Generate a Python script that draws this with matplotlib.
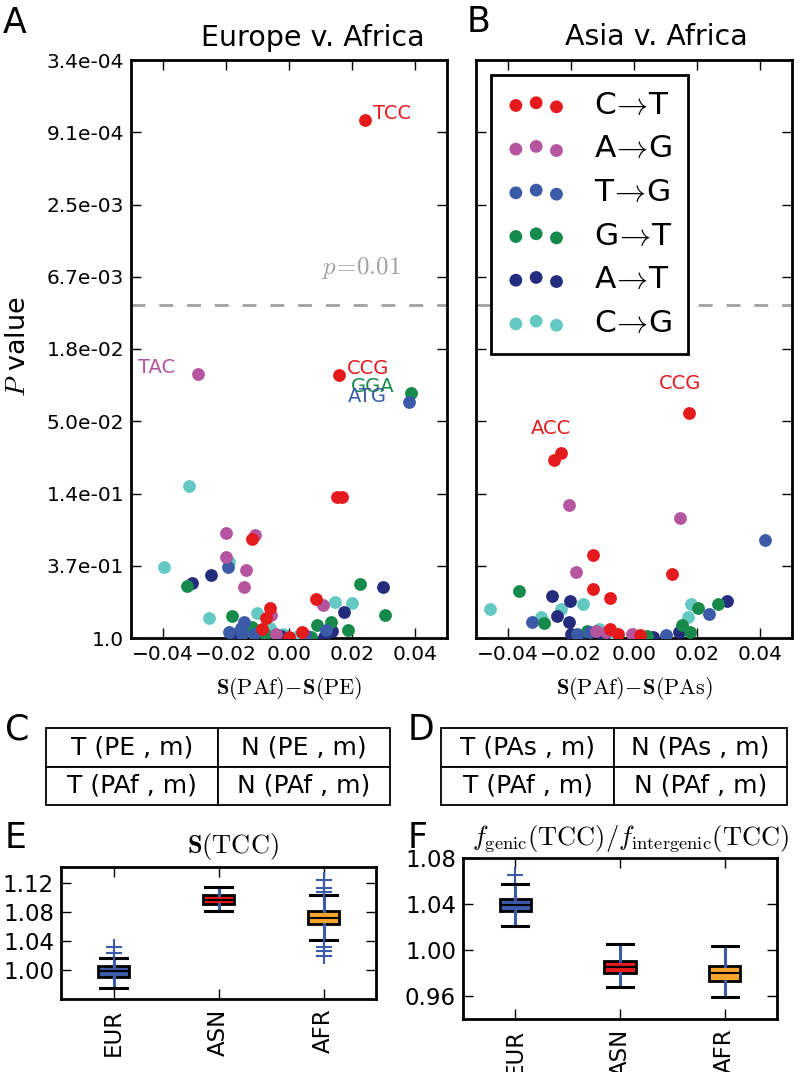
import numpy as np
import matplotlib
matplotlib.use('Agg')
import matplotlib.pyplot as plt

plt.rcParams['mathtext.fontset'] = 'cm'
plt.rcParams['font.family'] = ['DejaVu Sans']

W, H = 799, 1072

# ---------------- data ----------------
mut_labels = ['C$\\!\\rightarrow\\!$T', 'A$\\!\\rightarrow\\!$G', 'T$\\!\\rightarrow\\!$G',
              'G$\\!\\rightarrow\\!$T', 'A$\\!\\rightarrow\\!$T', 'C$\\!\\rightarrow\\!$G']
mut_colors = ['#e41a1c', '#b5559f', '#3b5ba9', '#168a4b', '#262c7d', '#63c9c2']

# y values are -ln(P)
# Panel A: Europe v. Africa
a_ct_x = [0.0239, 0.0157, 0.0151, 0.0167, -0.0116, 0.0084, -0.0060, -0.0072, 0.0000, 0.0040, -0.0085]
a_ct_y = [7.17, 3.64, 1.95, 1.95, 1.37, 0.54, 0.41, 0.28, 0.02, 0.08, 0.12]
a_ag_x = [-0.0287, -0.0198, -0.0107, -0.0199, -0.0135, -0.0142, 0.0107, -0.0057, -0.0040]
a_ag_y = [3.65, 1.45, 1.43, 1.12, 0.94, 0.71, 0.46, 0.32, 0.05]
a_tg_x = [0.0380, -0.0192, -0.0189, -0.0151, -0.0150, 0.0117, -0.0110, 0.0050, -0.0142]
a_tg_y = [3.27, 0.98, 0.08, 0.14, 0.05, 0.11, 0.05, 0.04, 0.22]
a_gt_x = [0.0387, -0.0324, 0.0224, 0.0305, -0.0180, 0.0088, 0.0132, 0.0186, -0.0117, -0.0075, 0.0070]
a_gt_y = [3.39, 0.72, 0.75, 0.32, 0.30, 0.18, 0.22, 0.11, 0.15, 0.05, 0.02]
a_at_x = [-0.0306, -0.0246, 0.0296, 0.0174, 0.0135, -0.0170, -0.0025, 0.0110]
a_at_y = [0.76, 0.87, 0.71, 0.36, 0.10, 0.05, 0.03, 0.02]
a_cg_x = [-0.0318, -0.0397, -0.0190, 0.0145, 0.0198, -0.0252, -0.0101, -0.0060, 0.0030, -0.0020]
a_cg_y = [2.10, 0.98, 1.05, 0.50, 0.48, 0.28, 0.35, 0.14, 0.03, 0.06]

# Panel B: Asia v. Africa
b_ct_x = [0.0175, -0.0253, -0.0231, -0.0131, 0.0121, -0.0131, -0.0077, -0.0075, -0.0050, 0.0020]
b_ct_y = [3.11, 2.46, 2.56, 1.15, 0.89, 0.68, 0.55, 0.12, 0.06, 0.04]
b_ag_x = [-0.0206, 0.0146, -0.0184, -0.0120, -0.0090, -0.0005]
b_ag_y = [1.84, 1.66, 0.91, 0.10, 0.08, 0.05]
b_tg_x = [0.0414, 0.0238, -0.0323, -0.0180, -0.0140, 0.0100]
b_tg_y = [1.36, 0.33, 0.22, 0.05, 0.08, 0.04]
b_gt_x = [-0.0364, -0.0285, 0.0204, 0.0266, 0.0153, 0.0178, -0.0150, 0.0040]
b_gt_y = [0.65, 0.21, 0.41, 0.47, 0.18, 0.08, 0.10, 0.03]
b_at_x = [-0.0260, -0.0203, 0.0295, -0.0245, -0.0205, 0.0143, -0.0170, -0.0100, 0.0060, -0.0200]
b_at_y = [0.58, 0.51, 0.51, 0.30, 0.22, 0.08, 0.03, 0.05, 0.02, 0.05]
b_cg_x = [-0.0455, -0.0160, -0.0294, -0.0231, 0.0180, 0.0172, -0.0110, -0.0060, 0.0010]
b_cg_y = [0.40, 0.47, 0.29, 0.40, 0.47, 0.29, 0.12, 0.04, 0.02]

p_threshold = 0.01
x_ticks = [-0.04, -0.02, 0.00, 0.02, 0.04]
y_ticks = [0, 1, 2, 3, 4, 5, 6, 7, 8]

# Tables
table_c = [['T (PE , m)', 'N (PE , m)'], ['T (PAf , m)', 'N (PAf , m)']]
table_d = [['T (PAs , m)', 'N (PAs , m)'], ['T (PAf , m)', 'N (PAf , m)']]

# Box plots
pops = ['EUR', 'ASN', 'AFR']
pop_colors = ['#3b5ba9', '#e41a1c', '#f5a52a']
e_med = [0.998, 1.0966, 1.0717]
e_q1 = [0.990, 1.091, 1.0634]
e_q3 = [1.0055, 1.1034, 1.0814]
e_lo = [0.975, 1.0814, 1.0414]
e_hi = [1.0166, 1.1145, 1.1034]
e_fliers = [[1.023, 1.032], [], [1.108, 1.113, 1.124, 1.032, 1.026, 1.019]]
f_med = [1.039, 0.9853, 0.9798]
f_q1 = [1.0336, 0.9798, 0.9733]
f_q3 = [1.0446, 0.9908, 0.9862]
f_lo = [1.0208, 0.968, 0.959]
f_hi = [1.057, 1.0055, 1.0037]
f_fliers = [[1.065], [], []]

# ---------------- figure ----------------
fig = plt.figure(figsize=(W / 100, H / 100), dpi=100)


def rect(l, t, r, b):
    return [l / W, 1 - b / H, (r - l) / W, (b - t) / H]


def style_axes(ax, labelsize):
    for s in ax.spines.values():
        s.set_linewidth(2)
    ax.tick_params(direction='in', length=7, width=1, top=True, right=True,
                   labelsize=labelsize, pad=5)


axA = fig.add_axes(rect(131, 60, 447, 638))
axB = fig.add_axes(rect(476, 60, 792, 638))

A_sets = [(a_ct_x, a_ct_y), (a_ag_x, a_ag_y), (a_tg_x, a_tg_y),
          (a_gt_x, a_gt_y), (a_at_x, a_at_y), (a_cg_x, a_cg_y)]
B_sets = [(b_ct_x, b_ct_y), (b_ag_x, b_ag_y), (b_tg_x, b_tg_y),
          (b_gt_x, b_gt_y), (b_at_x, b_at_y), (b_cg_x, b_cg_y)]

handles = [None] * 6
for ax, sets in [(axA, A_sets), (axB, B_sets)]:
    for i in reversed(range(6)):
        xs, ys = sets[i]
        h = ax.scatter(xs, ys, s=85, c=mut_colors[i], linewidths=0,
                       label=mut_labels[i], zorder=3)
        if ax is axB:
            handles[i] = h
    ax.axhline(-np.log(p_threshold), color='#a0a0a0', lw=2, dashes=(5, 5), zorder=2)
    ax.set_xlim(-0.05, 0.05)
    ax.set_ylim(0, 8)
    ax.set_xticks(x_ticks)
    ax.set_xticklabels([('%.2f' % t).replace('-', '\u2212') for t in x_ticks])
    ax.set_yticks(y_ticks)
    style_axes(ax, 14.5)

axA.set_yticklabels(['1.0'] + ['%.1e' % np.exp(-k) for k in y_ticks[1:]])
axB.tick_params(labelleft=False)

axA.text(0.023, 5.12, '$p\\!=\\!0.01$', color='#a0a0a0', fontsize=18,
         ha='center', va='center')

# annotations
annA = [('TCC', a_ct_x[0], a_ct_y[0], mut_colors[0], 6, 5, 'left'),
        ('TAC', a_ag_x[0], a_ag_y[0], mut_colors[1], -17, 5, 'right'),
        ('CCG', a_ct_x[1], a_ct_y[1], mut_colors[0], 6, 5, 'left'),
        ('GGA', a_gt_x[0], a_gt_y[0], mut_colors[3], -12, 5, 'right'),
        ('ATG', a_tg_x[0], a_tg_y[0], mut_colors[2], -16, 4, 'right')]
for t, x, y, c, dx, dy, ha in annA:
    axA.annotate(t, xy=(x, y), xytext=(dx, dy), textcoords='offset points',
                 ha=ha, va='center', color=c, fontsize=14, zorder=4)
annB = [('CCG', b_ct_x[0], b_ct_y[0], mut_colors[0], -6.5, 21.5),
        ('ACC', b_ct_x[2], b_ct_y[2], mut_colors[0], -7, 18)]
for t, x, y, c, dx, dy in annB:
    axB.annotate(t, xy=(x, y), xytext=(dx, dy), textcoords='offset points',
                 ha='center', va='center', color=c, fontsize=14, zorder=4)

leg = axB.legend(handles=handles, labels=mut_labels, loc='upper left',
                 bbox_to_anchor=(0.047, 0.974), borderaxespad=0, fontsize=22.5,
                 scatterpoints=3, scatteryoffsets=[0.375, 0.5, 0.3125],
                 handlelength=1.9, handletextpad=0.9, labelspacing=0.47,
                 borderpad=0.5, fancybox=False, framealpha=1)
leg.get_frame().set_edgecolor('black')
leg.get_frame().set_linewidth(2)
leg.set_zorder(5)

axA.text(0.576, 1.024, 'Europe v. Africa', transform=axA.transAxes,
         fontsize=20.5, ha='center', va='baseline')
axB.text(0.570, 1.026, 'Asia v. Africa', transform=axB.transAxes,
         fontsize=20.5, ha='center', va='baseline')

fig.text(18 / W, 1 - 347 / H, '$P$ value', rotation=90, fontsize=19.5,
         ha='center', va='center')
fig.text(289 / W, 1 - 688 / H, '$\\mathbf{S}(\\mathrm{PAf})\\!-\\!\\mathbf{S}(\\mathrm{PE})$',
         fontsize=16, ha='center', va='center')
fig.text(634 / W, 1 - 688 / H, '$\\mathbf{S}(\\mathrm{PAf})\\!-\\!\\mathbf{S}(\\mathrm{PAs})$',
         fontsize=16, ha='center', va='center')

# ---------------- tables ----------------
for rr, data in [((46, 728, 390, 805), table_c), ((441, 728, 787, 805), table_d)]:
    axT = fig.add_axes(rect(*rr))
    axT.axis('off')
    tbl = axT.table(cellText=data, cellLoc='center', bbox=[0, 0, 1, 1])
    tbl.auto_set_font_size(False)
    tbl.set_fontsize(18)
    for cell in tbl.get_celld().values():
        cell.set_linewidth(1.3)

# ---------------- box plots ----------------
axE = fig.add_axes(rect(61, 867, 376, 999))
axF = fig.add_axes(rect(463, 858, 777, 1019))

for ax, med, q1, q3, lo, hi, fl in [(axE, e_med, e_q1, e_q3, e_lo, e_hi, e_fliers),
                                     (axF, f_med, f_q1, f_q3, f_lo, f_hi, f_fliers)]:
    stats = [dict(med=med[i], q1=q1[i], q3=q3[i], whislo=lo[i], whishi=hi[i],
                  fliers=fl[i], label=pops[i]) for i in range(3)]
    bp = ax.bxp(stats, widths=0.3, capwidths=0.25, patch_artist=True,
                boxprops=dict(edgecolor='black', linewidth=2),
                medianprops=dict(color='black', linewidth=1.5),
                whiskerprops=dict(color='#3b5ba9', linewidth=2.2),
                capprops=dict(color='black', linewidth=2.2),
                flierprops=dict(marker='+', markeredgecolor='#3b5ba9',
                                markersize=11, markeredgewidth=1.5))
    for patch, c in zip(bp['boxes'], pop_colors):
        patch.set_facecolor(c)
    ax.set_xlim(0.5, 3.5)
    style_axes(ax, 16.5)
    ax.tick_params(axis='x', labelrotation=90, pad=7)

axE.set_ylim(0.96, 1.142)
axE.set_yticks([1.00, 1.04, 1.08, 1.12])
axE.set_yticklabels(['1.00', '1.04', '1.08', '1.12'])
axF.set_ylim(0.94, 1.08)
axF.set_yticks([0.96, 1.00, 1.04, 1.08])
axF.set_yticklabels(['0.96', '1.00', '1.04', '1.08'])

fig.text(233 / W, 1 - 853 / H, '$\\mathbf{S}(\\mathrm{TCC})$', fontsize=19,
         ha='center', va='baseline')
fig.text(631 / W, 1 - 845 / H,
         '$f_{\\mathrm{genic}}(\\mathrm{TCC})/f_{\\mathrm{intergenic}}(\\mathrm{TCC})$',
         fontsize=19, ha='center', va='baseline')

# panel letters
for letter, x, yb in [('A', 3, 33), ('B', 467, 32), ('C', 5, 740), ('D', 408, 740),
                      ('E', 5, 848), ('F', 408, 848)]:
    fig.text(x / W, 1 - yb / H, letter, fontsize=25, ha='left', va='baseline')

fig.savefig('out.png', dpi=100)
